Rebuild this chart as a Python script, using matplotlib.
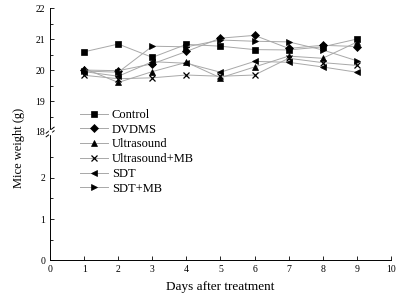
import matplotlib.pyplot as plt
import numpy as np

plt.rcParams['font.family'] = ['Liberation Serif', 'DejaVu Serif']

days = [1, 2, 3, 4, 5, 6, 7, 8, 9]
control = [20.59, 20.84, 20.41, 20.83, 20.77, 20.66, 20.65, 20.75, 21.0]
dvdms = [20.0, 19.98, 20.2, 20.6, 21.03, 21.12, 20.7, 20.8, 20.76]
ultrasound = [20.05, 19.6, 19.95, 20.25, 19.75, 20.1, 20.45, 20.38, 20.9]
ultrasound_mb = [19.83, 19.72, 19.75, 19.84, 19.8, 19.84, 20.38, 20.24, 20.15]
sdt = [19.95, 19.8, 20.27, 20.22, 19.93, 20.28, 20.25, 20.1, 19.93]
sdt_mb = [19.97, 19.93, 20.77, 20.75, 20.97, 20.93, 20.91, 20.65, 20.3]

names = ['Control', 'DVDMS', 'Ultrasound', 'Ultrasound+MB', 'SDT', 'SDT+MB']
series = [control, dvdms, ultrasound, ultrasound_mb, sdt, sdt_mb]
markers = ['s', 'D', '^', 'x', '<', '>']

fig = plt.figure(figsize=(3.98, 3.01), dpi=100)
ax_top = fig.add_axes([0.126, 0.5615, 0.856, 0.4115])
ax_bot = fig.add_axes([0.126, 0.136, 0.856, 0.4255])

for y, m, name in zip(series, markers, names):
    ax_top.plot(days, y, color='#a8a8a8', lw=0.7, marker=m, ms=4.2 if m != 'x' else 5,
                mfc='black', mec='black', mew=0.9 if m == 'x' else 0.5, label=name)

for ax in (ax_top, ax_bot):
    ax.set_xlim(0, 10)
    for s in ('top', 'right'):
        ax.spines[s].set_visible(False)
    ax.tick_params(direction='in', labelsize=7, length=3, width=0.6)
    ax.tick_params(which='minor', direction='in', length=2, width=0.6)
    ax.spines['left'].set_linewidth(0.7)
    ax.spines['bottom'].set_linewidth(0.7)

ax_top.set_ylim(18, 22)
ax_top.set_yticks([18, 19, 20, 21, 22])
ax_top.set_yticks(np.arange(18.5, 22, 1), minor=True)
ax_top.spines['bottom'].set_visible(False)
ax_top.tick_params(axis='x', bottom=False, labelbottom=False)
ax_top.patch.set_alpha(0)

ax_bot.set_ylim(0, 3.12)
ax_bot.set_yticks([0, 1, 2])
ax_bot.set_yticks([0.5, 1.5, 2.5], minor=True)
ax_bot.set_xticks(range(0, 11))
ax_bot.set_xlabel('Days after treatment', fontsize=9.5, labelpad=5)

# axis break marks
for dy in (-0.006, 0.006):
    fig.add_artist(plt.Line2D([0.116, 0.136], [0.5615 + dy - 0.01, 0.5615 + dy + 0.01],
                              color='black', lw=0.7))
fig.add_artist(plt.Rectangle((0.123, 0.5555), 0.006, 0.012, color='white', zorder=3))

fig.text(0.048, 0.508, 'Mice weight (g)', rotation=90, va='center', ha='center', fontsize=9)

h, l = ax_top.get_legend_handles_labels()
fig.legend(h, l, loc='upper left', bbox_to_anchor=(0.201, 0.638), frameon=False,
           fontsize=9, handlelength=2.24, labelspacing=0.22, handletextpad=0.3,
           borderpad=0, borderaxespad=0)

fig.savefig('out.png', dpi=100)
